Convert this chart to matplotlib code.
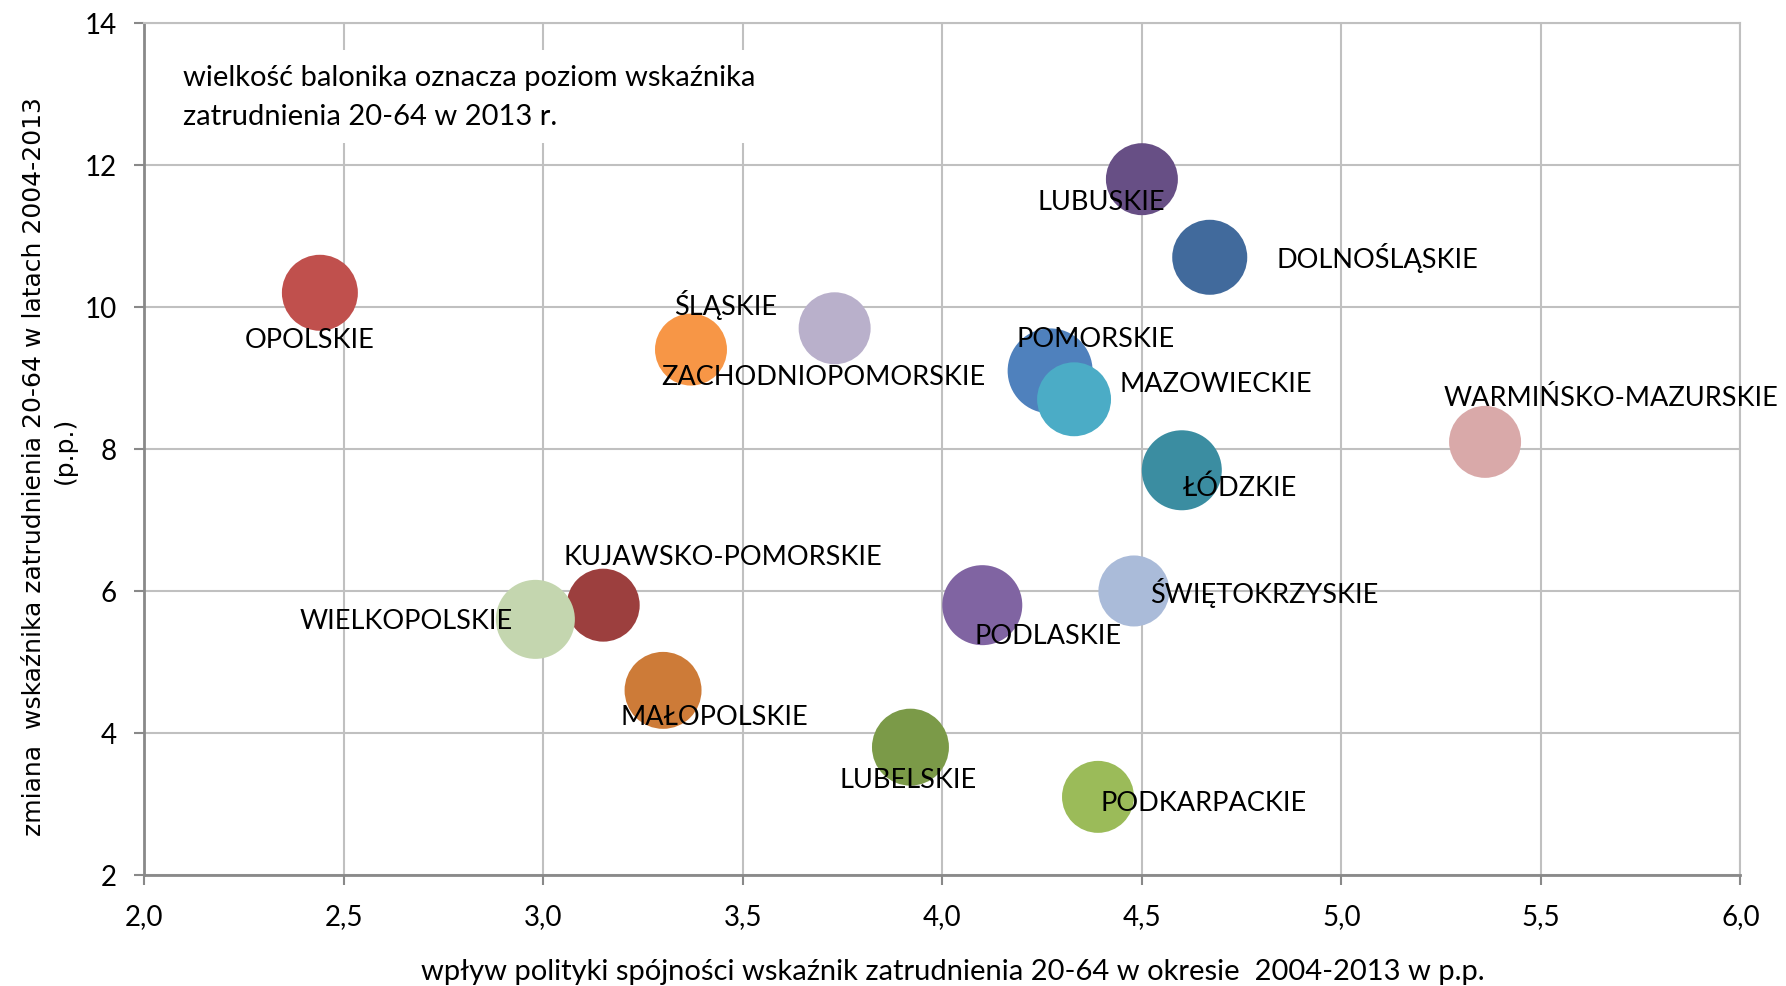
import matplotlib
matplotlib.use("Agg")
import matplotlib.pyplot as plt

# dane: wojewodztwa (kolejnosc = kolejnosc rysowania)
wojewodztwa = ["OPOLSKIE", "ŚLĄSKIE", "ZACHODNIOPOMORSKIE", "LUBUSKIE",
               "DOLNOŚLĄSKIE", "POMORSKIE", "MAZOWIECKIE", "WARMIŃSKO-MAZURSKIE",
               "ŁÓDZKIE", "KUJAWSKO-POMORSKIE", "WIELKOPOLSKIE", "MAŁOPOLSKIE",
               "LUBELSKIE", "PODKARPACKIE", "PODLASKIE", "ŚWIĘTOKRZYSKIE"]
wplyw = [2.44, 3.37, 3.73, 4.50, 4.67, 4.27, 4.33, 5.36,
         4.60, 3.15, 2.98, 3.30, 3.92, 4.39, 4.10, 4.48]
zmiana = [10.2, 9.4, 9.7, 11.8, 10.7, 9.1, 8.7, 8.1,
          7.7, 5.8, 5.6, 4.6, 3.8, 3.1, 5.8, 6.0]
poziom_2013 = [62.6, 59.3, 59.3, 59.3, 61.8, 70.0, 60.9, 59.3,
               65.9, 60.1, 65.1, 63.4, 63.4, 59.3, 65.9, 58.5]

x_ticks = [2.0, 2.5, 3.0, 3.5, 4.0, 4.5, 5.0, 5.5, 6.0]
x_ticklabels = ["2,0", "2,5", "3,0", "3,5", "4,0", "4,5", "5,0", "5,5", "6,0"]
y_ticks = [2, 4, 6, 8, 10, 12, 14]

kolory = ["#C0504D", "#F79646", "#B9B0CB", "#674F85",
          "#416A9C", "#4F81BD", "#4BACC6", "#D9A9A9",
          "#3B8DA1", "#9C3F3E", "#C4D6AF", "#CD7B38",
          "#7B9A48", "#9BBB59", "#8064A2", "#AABBD9"]
# przesuniecia etykiet wzgledem srodka balonika (punkty)
przesuniecia = [(-7, -34), (25, 33), (-8, -35), (-29, -16),
                (121, 0), (33, 23), (102, 11), (91, 32),
                (42, -12), (86, 35), (-93, -1), (37, -19),
                (-2, -23), (76, -4), (47, -22), (94, -1)]

plt.rcParams["font.family"] = ["Lato", "DejaVu Sans"]

fig = plt.figure(figsize=(17.86, 9.87), dpi=100)
ax = fig.add_axes([0.0808, 0.1125, 0.8937, 0.8632])

skala = 0.874
rozmiary = [(v * skala) ** 2 for v in poziom_2013]
for xi, yi, s, c in zip(wplyw, zmiana, rozmiary, kolory):
    ax.scatter(xi, yi, s=s, color=c, edgecolors="none", zorder=3, clip_on=False)

for nazwa, xi, yi, off in zip(wojewodztwa, wplyw, zmiana, przesuniecia):
    ax.annotate(nazwa, (xi, yi), xytext=off, textcoords="offset points",
                ha="center", va="center", fontsize=19.5, color="black",
                zorder=5, annotation_clip=False)

ax.set_xlim(2.0, 6.0)
ax.set_ylim(2, 14)
ax.set_xticks(x_ticks)
ax.set_xticklabels(x_ticklabels)
ax.set_yticks(y_ticks)
ax.tick_params(axis="both", labelsize=20, length=7, width=1.5,
               color="#898989", pad=13)
ax.grid(True, color="#C0C0C0", linewidth=1.5, zorder=0)
ax.set_axisbelow(True)
for side in ["left", "bottom"]:
    ax.spines[side].set_color("#898989")
    ax.spines[side].set_linewidth(2)
for side in ["top", "right"]:
    ax.spines[side].set_color("#C0C0C0")
    ax.spines[side].set_linewidth(1.5)

ax.text(0.0245, 0.914, "wielkość balonika oznacza poziom wskaźnika\nzatrudnienia 20-64 w 2013 r.",
        transform=ax.transAxes, ha="left", va="center", fontsize=21,
        linespacing=1.6, zorder=4,
        bbox=dict(facecolor="white", edgecolor="none", pad=10))

fig.text(0.5336, 0.0152,
         "wpływ polityki spójności wskaźnik zatrudnienia 20-64 w okresie  2004-2013 w p.p.",
         ha="center", va="center", fontsize=21)
fig.text(0.019, 0.527, "zmiana  wskaźnika zatrudnienia 20-64 w latach 2004-2013",
         rotation=90, ha="center", va="center", fontsize=18, family="DejaVu Sans")
fig.text(0.0365, 0.544, "(p.p.)",
         rotation=90, ha="center", va="center", fontsize=18, family="DejaVu Sans")

fig.savefig("out.png", dpi=100)
